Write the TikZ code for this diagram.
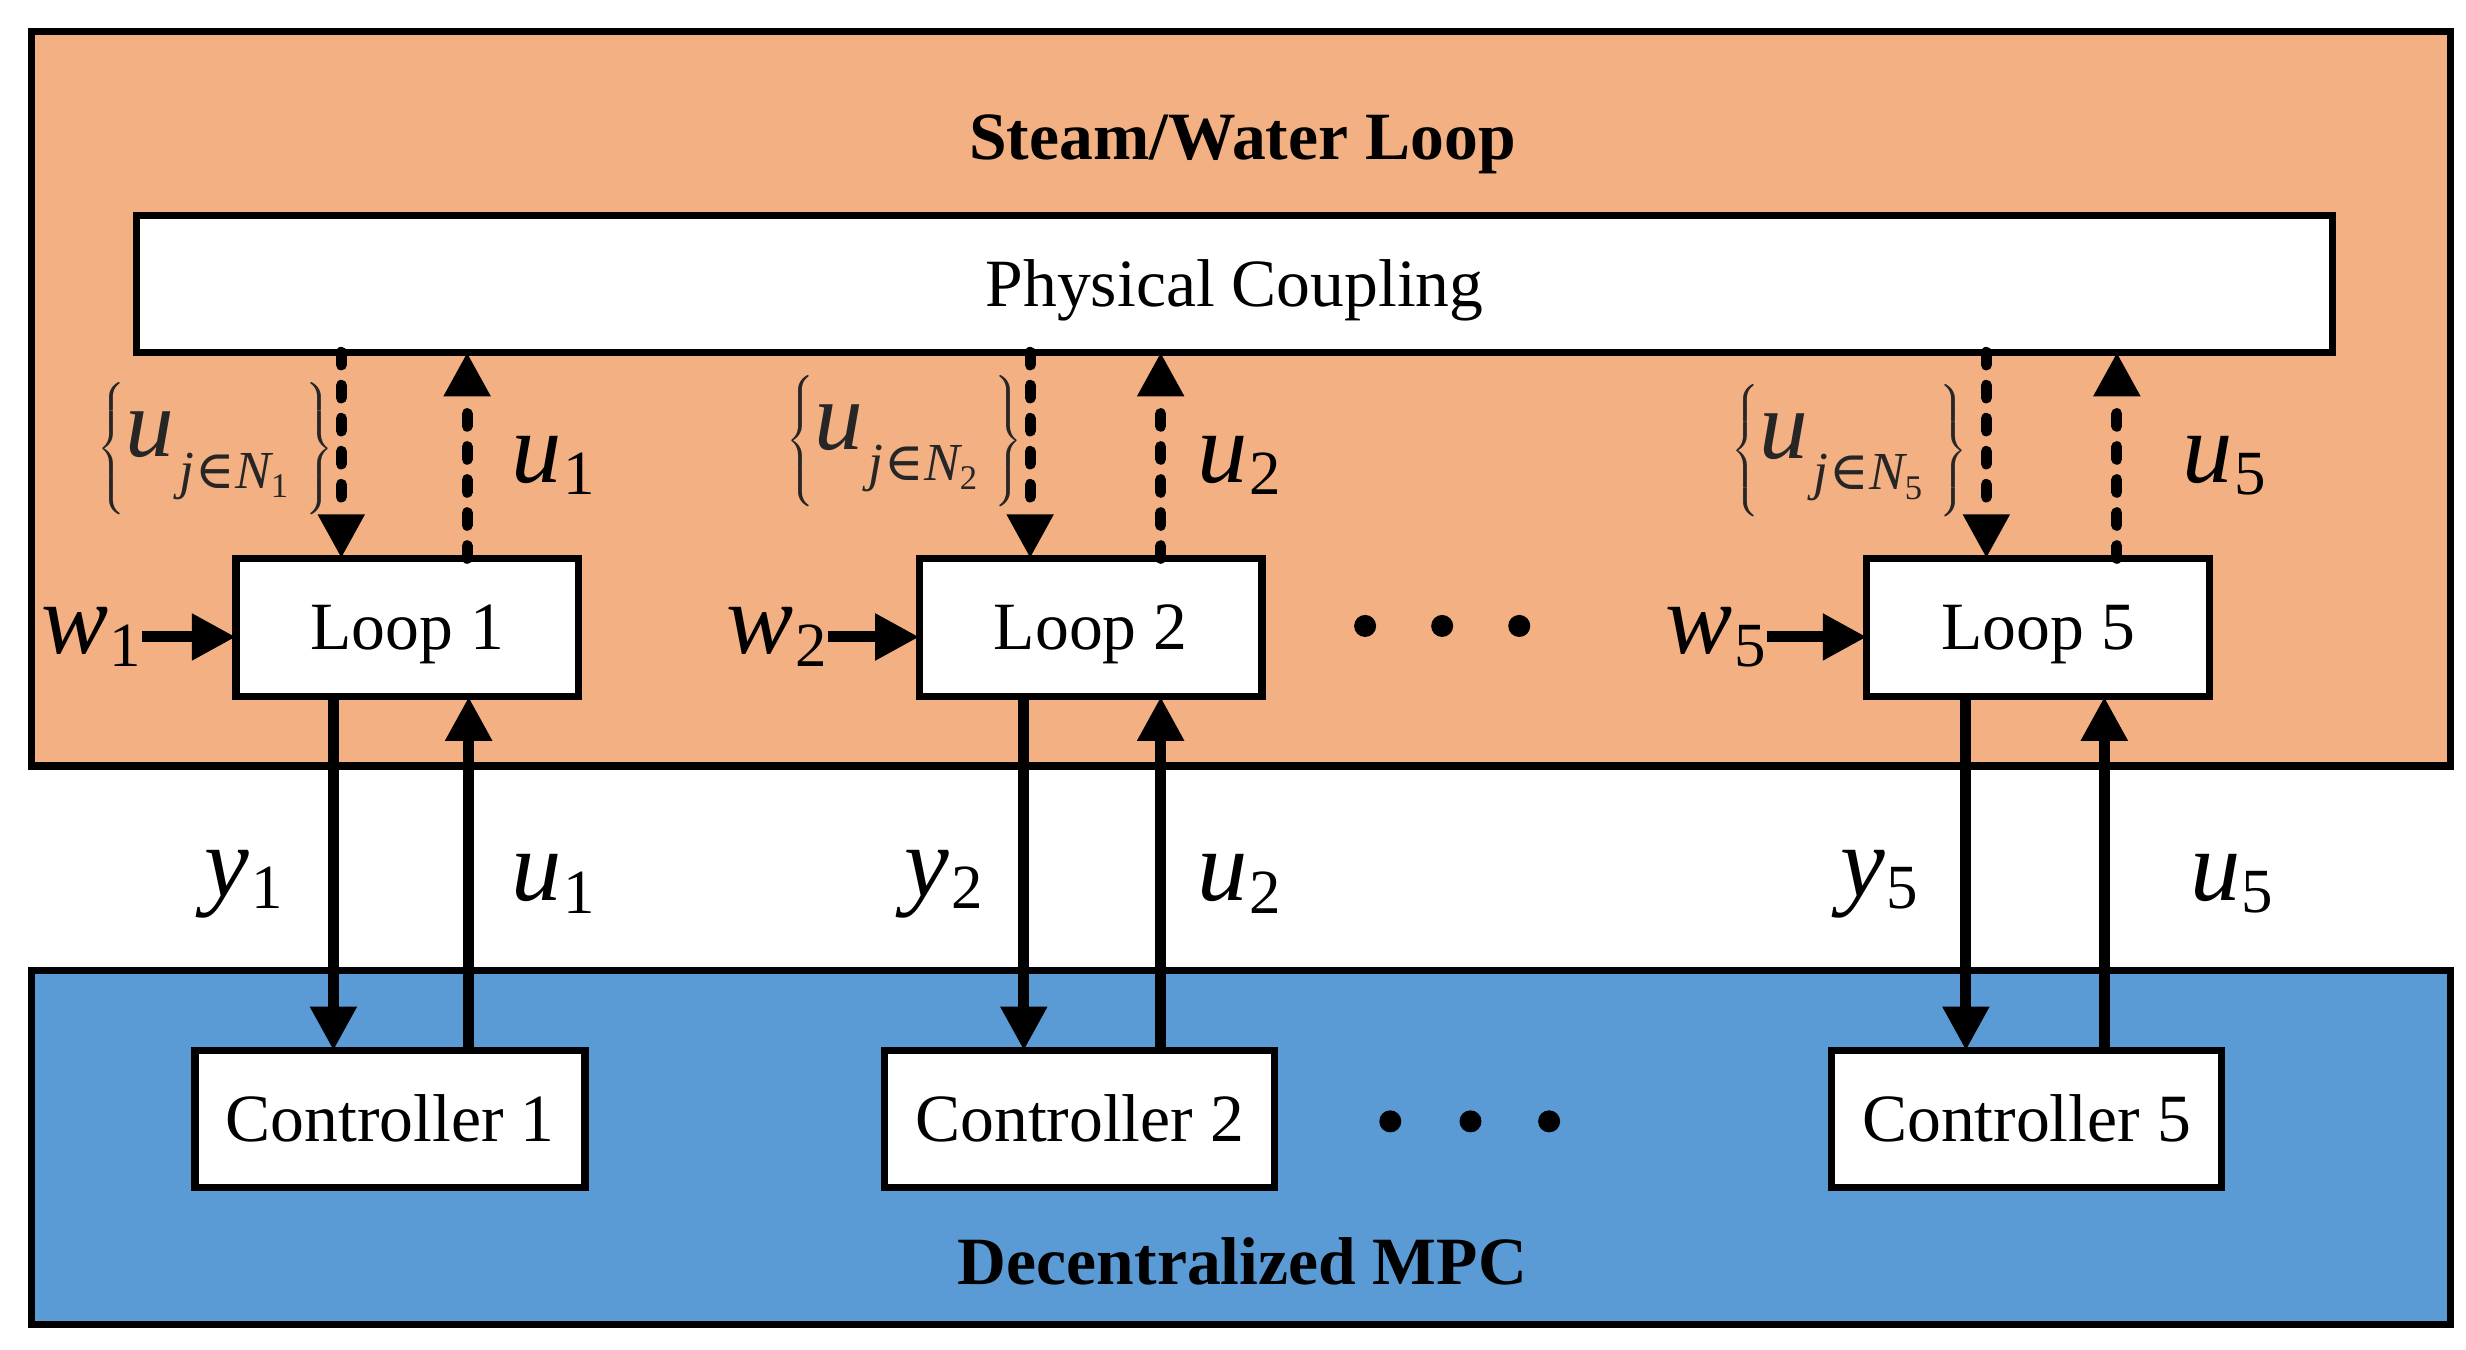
\documentclass[tikz,border=0pt]{standalone}
\usepackage{fontspec}
\setmainfont{Liberation Serif}
\newfontfamily\symfont{DejaVu Serif}
\usetikzlibrary{arrows.meta}
\definecolor{steam}{HTML}{F3B083}
\definecolor{mpc}{HTML}{5B9BD5}
\newcommand{\mlbl}[2]{{\fontsize{32}{32}\selectfont\itshape #1}\kern0.5pt\raisebox{-4pt}{\fontsize{20}{20}\selectfont #2}}
\newcommand{\setlbl}[1]{$\left\{\vphantom{\rule[-20pt]{0pt}{40pt}}\hbox{\fontsize{31}{31}\selectfont\itshape u}\,\raisebox{-10pt}{\fontsize{17}{17}\selectfont\itshape j\kern0.5pt{\symfont\upshape ∈}N\raisebox{-3pt}{\fontsize{11}{11}\selectfont\upshape #1}}\;\;\right\}$}
\tikzset{
  boxst/.style={draw, line width=2.3pt, fill=white, inner sep=0pt, outer sep=0pt,
    text depth=0pt, text height=14.2pt, font=\fontsize{21.5}{24}\selectfont},
  loopbox/.style={boxst, minimum width=109pt, minimum height=44pt},
  ctrlbox/.style={boxst, minimum width=124pt, minimum height=43.5pt},
  areabox/.style={draw, line width=2.3pt},
  sarrow/.style={line width=3.5pt, -{Triangle[length=14pt,width=14pt]}},
  darrow/.style={sarrow, dash pattern=on 4pt off 6.5pt, line cap=round},
  lbl/.style={inner sep=0pt},
  title/.style={font=\bfseries\fontsize{21.5}{24}\selectfont, inner sep=0pt,
    text depth=0pt, text height=14.2pt},
}
\begin{document}
\begin{tikzpicture}[x=0.5pt,y=-0.5pt]
\useasboundingbox (0,0) rectangle (1568,858);
% areas
\path[areabox, fill=steam] (20,20) rectangle (1558,487);
\path[areabox, fill=mpc] (20,617) rectangle (1558,842);
\node[title] (tsteam) at (790,87.5) {Steam/Water Loop};
\node[title] (tmpc) at (790,802.5) {Decentralized MPC};
% boxes
\node[boxst, minimum width=698pt, minimum height=43.5pt] (pc) at (785,180.5) {Physical Coupling};
\node[loopbox] (l1) at (259,399) {Loop 1};
\node[loopbox] (l2) at (693.5,399) {Loop 2};
\node[loopbox] (l5) at (1296,399) {Loop 5};
\node[ctrlbox] (c1) at (248,711.5) {Controller 1};
\node[ctrlbox] (c2) at (686.5,711.5) {Controller 2};
\node[ctrlbox] (c5) at (1288.5,711.5) {Controller 5};
% dots
\foreach \x in {868,917,966} \fill (\x,398) circle (7);
\foreach \x in {884,935,985} \fill (\x,713) circle (7);
% dashed coupling arrows
\draw[darrow] ([xshift=-21pt]l1.north |- pc.south) -- ([xshift=-21pt]l1.north);
\draw[darrow] ([xshift=19pt]l1.north) -- ([xshift=19pt]l1.north |- pc.south);
\draw[darrow] ([xshift=-19.25pt]l2.north |- pc.south) -- ([xshift=-19.25pt]l2.north);
\draw[darrow] ([xshift=22.25pt]l2.north) -- ([xshift=22.25pt]l2.north |- pc.south);
\draw[darrow] ([xshift=-16.5pt]l5.north |- pc.south) -- ([xshift=-16.5pt]l5.north);
\draw[darrow] ([xshift=25pt]l5.north) -- ([xshift=25pt]l5.north |- pc.south);
% solid arrows loop <-> controller
\draw[sarrow] ([xshift=-23.5pt]l1.south) -- ([xshift=-23.5pt]l1.south |- c1.north);
\draw[sarrow] ([xshift=19.5pt]l1.south |- c1.north) -- ([xshift=19.5pt]l1.south);
\draw[sarrow] ([xshift=-21.25pt]l2.south) -- ([xshift=-21.25pt]l2.south |- c2.north);
\draw[sarrow] ([xshift=22.25pt]l2.south |- c2.north) -- ([xshift=22.25pt]l2.south);
\draw[sarrow] ([xshift=-23pt]l5.south) -- ([xshift=-23pt]l5.south |- c5.north);
\draw[sarrow] ([xshift=21pt]l5.south |- c5.north) -- ([xshift=21pt]l5.south);
% disturbance inputs
\node[lbl] (w1) at (58,405) {\mlbl{w}{1}};
\node[lbl] (w2) at (494,405) {\mlbl{w}{2}};
\node[lbl] (w5) at (1091,405) {\mlbl{w}{5}};
\draw[sarrow] (w1.east) -- (l1.west |- w1.east);
\draw[sarrow] (w2.east) -- (l2.west |- w2.east);
\draw[sarrow] (w5.east) -- (l5.west |- w5.east);
% labels upper
\node[lbl, text=black!85] (s1) at (137,287) {\setlbl{1}};
\node[lbl, text=black!85] (s2) at (575,282) {\setlbl{2}};
\node[lbl, text=black!85] (s5) at (1176,288) {\setlbl{5}};
\node[lbl] (uu1) at (352,296) {\mlbl{u}{1}};
\node[lbl] (uu2) at (788,296) {\mlbl{u}{2}};
\node[lbl] (uu5) at (1414,296) {\mlbl{u}{5}};
% labels lower
\node[lbl] (y1) at (155,562) {\mlbl{y}{1}};
\node[lbl] (ul1) at (352,562) {\mlbl{u}{1}};
\node[lbl] (y2) at (600,562) {\mlbl{y}{2}};
\node[lbl] (ul2) at (788,562) {\mlbl{u}{2}};
\node[lbl] (y5) at (1195,562) {\mlbl{y}{5}};
\node[lbl] (ul5) at (1419,562) {\mlbl{u}{5}};
\end{tikzpicture}
\end{document}
